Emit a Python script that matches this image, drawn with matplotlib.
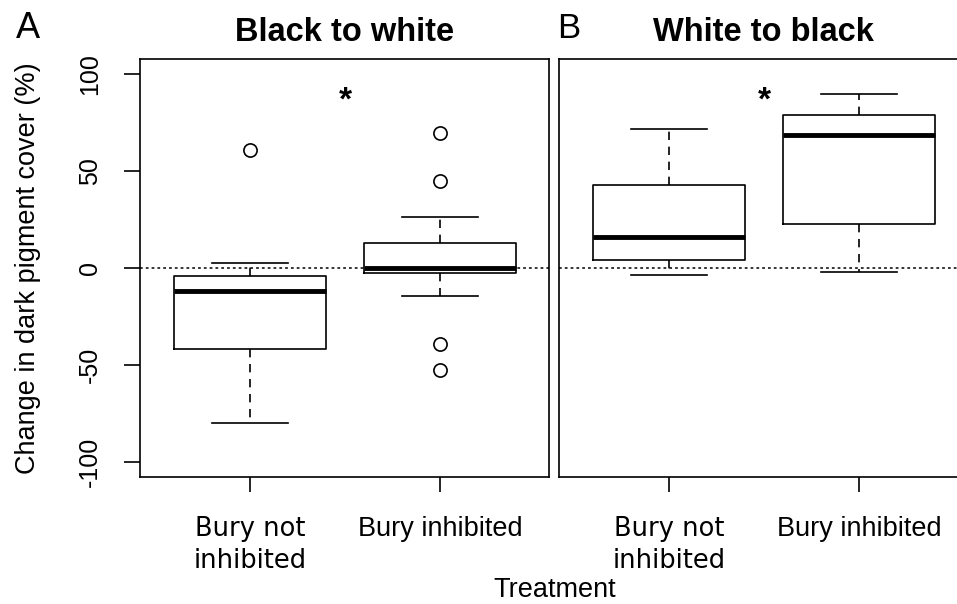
import numpy as np
import matplotlib
matplotlib.use("Agg")
import matplotlib.pyplot as plt

plt.rcParams['font.family'] = ['Liberation Sans', 'DejaVu Sans']

# values
groups = ['Bury not\ninhibited', 'Bury inhibited']
panels = ['Black to white', 'White to black']
panel_tags = ['A', 'B']

# panel A (black to white)
a_whislo = [-80, -14.5]
a_q1 = [-42, -2.6]
a_med = [-11.7, 0]
a_q3 = [-4, 12.7]
a_whishi = [2.4, 26.5]
a_fliers = [[61], [70, 45, -39.5, -52.7]]

# panel B (white to black)
b_whislo = [-3.5, -2.3]
b_q1 = [4, 22.5]
b_med = [16.2, 68.7]
b_q3 = [43, 79]
b_whishi = [71.8, 90]
b_fliers = [[], []]

star_y = [86.5, 86.5]
yticks = [-100, -50, 0, 50, 100]


def make_stats(lo, q1, med, q3, hi, fl):
    out = []
    for i in range(len(lo)):
        out.append(dict(whislo=lo[i], q1=q1[i], med=med[i], q3=q3[i],
                        whishi=hi[i], fliers=fl[i], label=groups[i]))
    return out


stats = [make_stats(a_whislo, a_q1, a_med, a_q3, a_whishi, a_fliers),
         make_stats(b_whislo, b_q1, b_med, b_q3, b_whishi, b_fliers)]

fig = plt.figure(figsize=(9.57, 6.04), dpi=100)
W, H = 957, 604
ax_w = 409 / W
ax_b = 1 - 477 / H
ax_h = (477 - 59) / H
lefts = [140 / W, 559 / W]

lw = 1.2
for k in range(2):
    ax = fig.add_axes([lefts[k], ax_b, ax_w, ax_h])
    ax.axhline(0, color='black', lw=1.1, linestyle=(0, (1.8, 2.0)), zorder=1)
    ax.bxp(stats[k], positions=[1, 2], widths=0.8, capwidths=0.4,
           patch_artist=False,
           boxprops=dict(color='black', lw=lw),
           medianprops=dict(color='black', lw=3.5, solid_capstyle='butt'),
           whiskerprops=dict(color='black', lw=lw, linestyle=(0, (5, 4))),
           capprops=dict(color='black', lw=lw),
           flierprops=dict(marker='o', markerfacecolor='none', markeredgecolor='black',
                           markersize=9.5, markeredgewidth=1.2))
    ax.text(1.5, star_y[k], '*', ha='center', va='center', fontsize=24, fontweight='bold')
    ax.set_xlim(0.42, 2.575)
    ax.set_ylim(-108, 108)
    ax.set_xticks([1, 2])
    ax.set_xticklabels(groups, va='top')
    labs = ax.get_xticklabels()
    labs[0].set_fontfamily('DejaVu Sans')
    labs[0].set_fontsize(18.5)
    labs[0].set_linespacing(1.33)
    labs[1].set_fontfamily('Liberation Sans')
    labs[1].set_fontsize(19.5)
    ax.tick_params(axis='x', length=11, width=lw, pad=17)
    for s in ax.spines.values():
        s.set_linewidth(lw)
    if k == 0:
        ax.set_yticks(yticks)
        ax.set_yticklabels([str(v) for v in yticks], rotation=90, va='center', fontsize=18)
        ax.tick_params(axis='y', length=11.5, width=lw, pad=16)
    else:
        ax.set_yticks([])
    ax.set_title(panels[k], fontsize=23.5, fontweight='bold', pad=13)

fig.text(28 / W, 1 - 268 / H, 'Change in dark pigment cover (%)', fontsize=19.5,
         rotation=90, ha='center', va='center')
fig.text(28 / W, 1 - 28 / H, panel_tags[0], fontsize=26, ha='center', va='center')
fig.text(569 / W, 1 - 29 / H, panel_tags[1], fontsize=25, ha='center', va='center')
fig.text(555 / W, 1 - 590 / H, 'Treatment', fontsize=19.5, ha='center', va='center')

fig.savefig('out.png', dpi=100)
